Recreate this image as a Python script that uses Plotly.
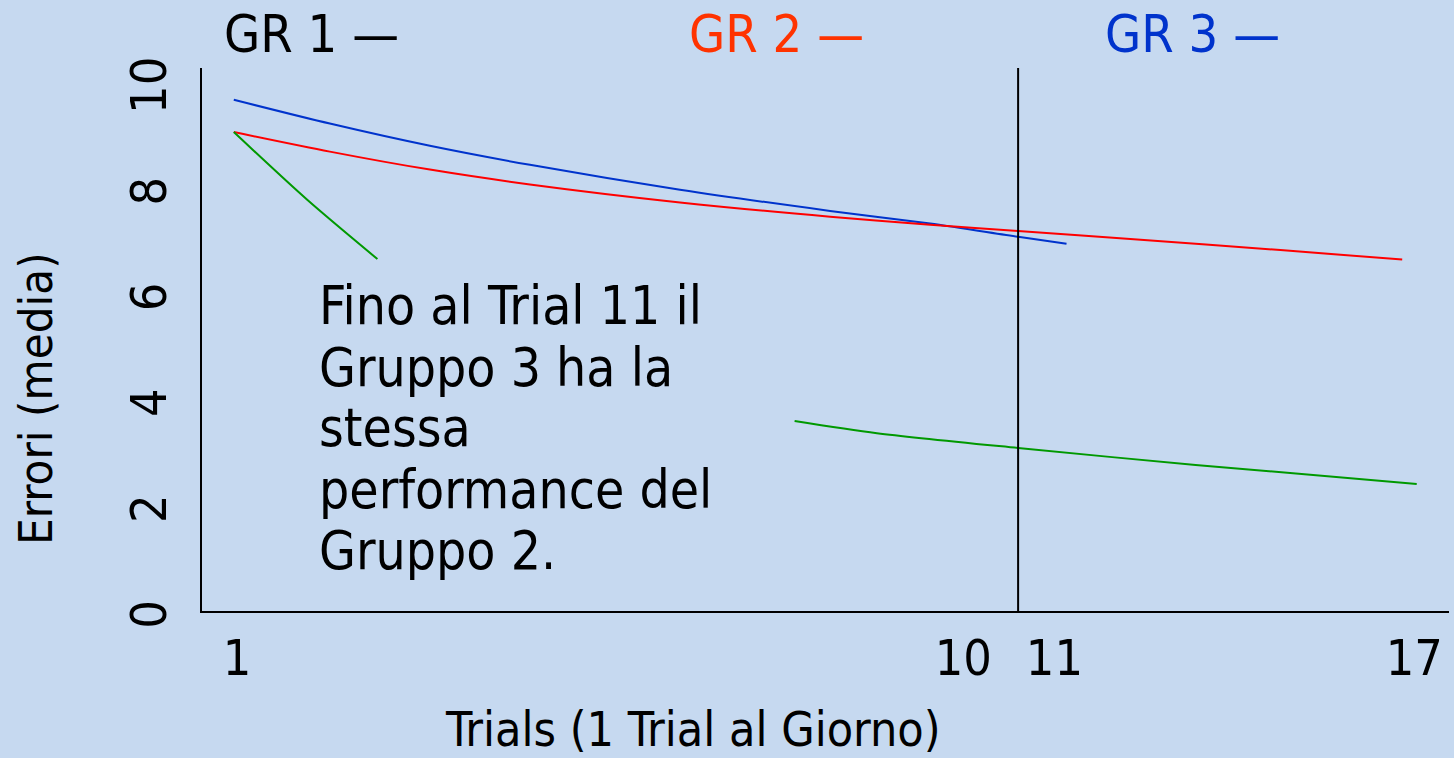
import plotly.graph_objects as go

# ---------------- data ----------------
trial_ticks = [1, 10, 11.13, 15.59]
trial_tick_labels = ["1", "10", "11", "17"]
error_ticks = [0, 2, 4, 6, 8, 10]
divider_trial = 10.68

gr3_x = [0.96, 2.15, 3.39, 4.63, 6.49, 8.35, 9.59, 10.68, 11.28]
gr3_y = [9.66, 9.21, 8.79, 8.43, 7.96, 7.56, 7.32, 7.07, 6.94]

gr2_x = [0.96, 2.15, 3.39, 4.63, 6.49, 8.35, 9.59, 10.68, 12.07, 13.93, 15.44]
gr2_y = [9.05, 8.68, 8.34, 8.06, 7.72, 7.45, 7.30, 7.18, 7.03, 6.82, 6.64]

gr1_early_x = [0.96, 1.87, 2.74]
gr1_early_y = [9.05, 7.77, 6.65]
gr1_late_x = [7.91, 8.93, 10.68, 12.88, 15.62]
gr1_late_y = [3.59, 3.36, 3.08, 2.76, 2.40]

group_labels = ["GR 1 \u2014", "GR 2 \u2014", "GR 3 \u2014"]
note_lines = ["Fino al Trial 11 il", "Gruppo 3 ha la", "stessa",
              "performance del", "Gruppo 2."]
x_title = "Trials (1 Trial al Giorno)"
y_title = "Errori (media)"

# ---------------- styling / layout ----------------
W, H = 1454, 758
L, R, T, B = 202, 1449, 68, 611
BG = "#C6D9F0"
FONT = "DejaVu Sans Condensed, DejaVu Sans, sans-serif"
BLUE = "#0033CC"
RED = "#FF0000"
GREEN = "#009900"


def xp(px):
    return (px - L) / (R - L)


def yp(py):
    return (B - py) / (B - T)


fig = go.Figure()
line_w = 2
for xs, ys, col in [(gr3_x, gr3_y, BLUE), (gr2_x, gr2_y, RED),
                    (gr1_early_x, gr1_early_y, GREEN), (gr1_late_x, gr1_late_y, GREEN)]:
    fig.add_trace(go.Scatter(x=xs, y=ys, mode="lines",
                             line=dict(color=col, width=line_w, shape="spline", smoothing=0.8),
                             showlegend=False, hoverinfo="skip"))

fig.add_shape(type="line", xref="x", yref="paper", x0=divider_trial, x1=divider_trial, y0=0, y1=1,
              line=dict(color="black", width=2))

annotations = []
label_colors = ["black", "#FF3300", BLUE]
label_centers = [311, 776, 1192]
for txt, col, cx in zip(group_labels, label_colors, label_centers):
    annotations.append(dict(text=txt, xref="paper", yref="paper", x=xp(cx), y=yp(34),
                            xanchor="center", yanchor="middle", showarrow=False,
                            font=dict(family=FONT, size=52, color=col)))
note_centers = [305, 367, 427, 489, 550]
for txt, cy in zip(note_lines, note_centers):
    annotations.append(dict(text=txt, xref="paper", yref="paper", x=xp(317), y=yp(cy),
                            xanchor="left", yanchor="middle", showarrow=False,
                            font=dict(family=FONT, size=53, color="black")))
annotations.append(dict(text=x_title, xref="paper", yref="paper", x=xp(693), y=yp(729),
                        xanchor="center", yanchor="middle", showarrow=False,
                        font=dict(family=FONT, size=48, color="black")))
annotations.append(dict(text=y_title, xref="paper", yref="paper", x=xp(35), y=yp(398),
                        xanchor="center", yanchor="middle", showarrow=False, textangle=-90,
                        font=dict(family=FONT, size=47, color="black")))

fig.update_layout(
    width=W, height=H,
    margin=dict(l=L, r=W - R, t=T, b=H - B, pad=0),
    paper_bgcolor=BG, plot_bgcolor=BG,
    annotations=annotations,
    showlegend=False,
)
fig.update_xaxes(range=[0.566, 16.02], tickvals=trial_ticks, ticktext=trial_tick_labels,
                 showgrid=False, zeroline=False, showline=True, linecolor="black", linewidth=2,
                 ticks="", ticklabelstandoff=2,
                 tickfont=dict(family=FONT, size=50, color="black"))
fig.update_yaxes(range=[0, 10.26], tickvals=error_ticks,
                 showgrid=False, zeroline=False, showline=True, linecolor="black", linewidth=2,
                 ticks="", tickangle=-90, ticklabelstandoff=14, ticklabelshift=11,
                 tickfont=dict(family=FONT, size=50, color="black"))

fig.write_html("out.html", config={"displayModeBar": False},
               post_script="document.body.style.margin='0';document.body.style.overflow='hidden';")
